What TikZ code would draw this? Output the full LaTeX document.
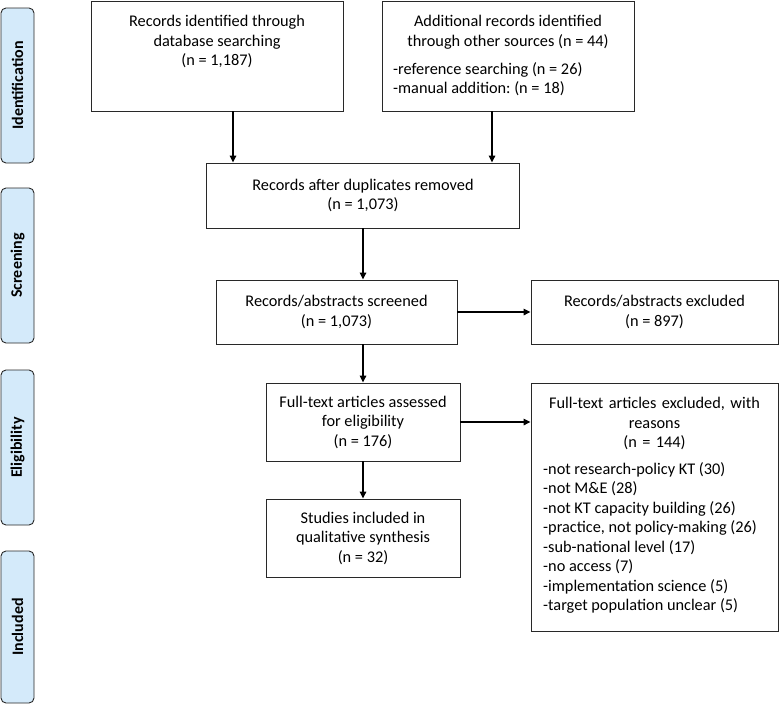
\documentclass[tikz,border=0pt]{standalone}
\usepackage{fontspec}
\setmainfont{Carlito}
\usetikzlibrary{arrows.meta}
\frenchspacing
\definecolor{phaseblue}{RGB}{212,234,250}
\definecolor{edge}{RGB}{40,40,40}
\tikzset{
  box/.style={draw=edge, line width=0.9pt, fill=white, inner sep=0pt, align=center,
    font=\fontsize{16.3}{19.5}\selectfont},
  phase/.style={draw=edge, line width=0.9pt, fill=phaseblue, rounded corners=5pt,
    rotate=90, minimum height=33pt, inner sep=0pt, font=\fontsize{16}{18}\selectfont\bfseries},
  txt/.style={inner sep=0pt, font=\fontsize{16.3}{19.5}\selectfont},
  arr/.style={-{Triangle[length=7pt,width=6.5pt]}, line width=1.5pt, black}
}
\begin{document}
\begin{tikzpicture}[x=1pt,y=-1pt]
\useasboundingbox (0,0) rectangle (779,707);
% phase labels
\node[phase, minimum width=155pt] (pid) at (17.5,85.5) {Identification};
\node[phase, minimum width=155pt] (psc) at (17.5,265.5) {Screening};
\node[phase, minimum width=155pt] (pel) at (17.5,447.5) {Eligibility};
\node[phase, minimum width=152pt] (pin) at (17.5,627) {Included};
% boxes
\node[box, minimum width=252pt, minimum height=110pt] (b1) at (217,56) {};
\node[txt, anchor=north, align=center] (t1) at (217,15) {Records identified through\\database searching\\(n = 1,187)};
\node[box, minimum width=252pt, minimum height=110pt] (b2) at (508,56) {};
\node[txt, anchor=north, align=center] (t2) at (508,15) {Additional records identified\\through other sources (n = 44)};
\node[txt, anchor=north west, align=left] (t2b) at (393,62) {-reference searching (n = 26)\\-manual addition: (n = 18)};
\node[box, minimum width=313pt, minimum height=65pt] (b3) at (363,195.5) {Records after duplicates removed\\(n = 1,073)};
\node[box, minimum width=241pt, minimum height=64pt] (b4) at (336.5,312) {Records/abstracts screened\\(n = 1,073)};
\node[box, minimum width=247pt, minimum height=64pt] (e1) at (654.5,312) {Records/abstracts excluded\\(n = 897)};
\node[box, minimum width=194pt, minimum height=78pt] (b5) at (363,422) {Full-text articles assessed\\for eligibility\\(n = 176)};
\node[box, minimum width=194pt, minimum height=78pt] (b6) at (363,538) {Studies included in\\qualitative synthesis\\(n = 32)};
\node[box, minimum width=247pt, minimum height=248pt] (e2) at (654.5,507) {};
\node[txt, anchor=north, align=center, text width=240pt] (t3) at (654.5,397) {Full-text articles excluded, with\\reasons\\(n = 144)};
\node[txt, anchor=north west, align=left] (t3b) at (543,462) {-not research-policy KT (30)\\-not M\&E (28)\\-not KT capacity building (26)\\-practice, not policy-making (26)\\-sub-national level (17)\\-no access (7)\\-implementation science (5)\\-target population unclear (5)};
% arrows
\draw[arr] ([xshift=16pt]b1.south) -- ([xshift=16pt]b1.south |- b3.north);
\draw[arr] ([xshift=-16pt]b2.south) -- ([xshift=-16pt]b2.south |- b3.north);
\draw[arr] (b3.south) -- (b3.south |- b4.north);
\draw[arr] (b4.east) -- (e1.west);
\draw[arr] (b4.south -| b5.north) -- (b5.north);
\draw[arr] (b5.east) -- (b5.east -| e2.west);
\draw[arr] (b5.south) -- (b6.north);
\end{tikzpicture}
\end{document}
